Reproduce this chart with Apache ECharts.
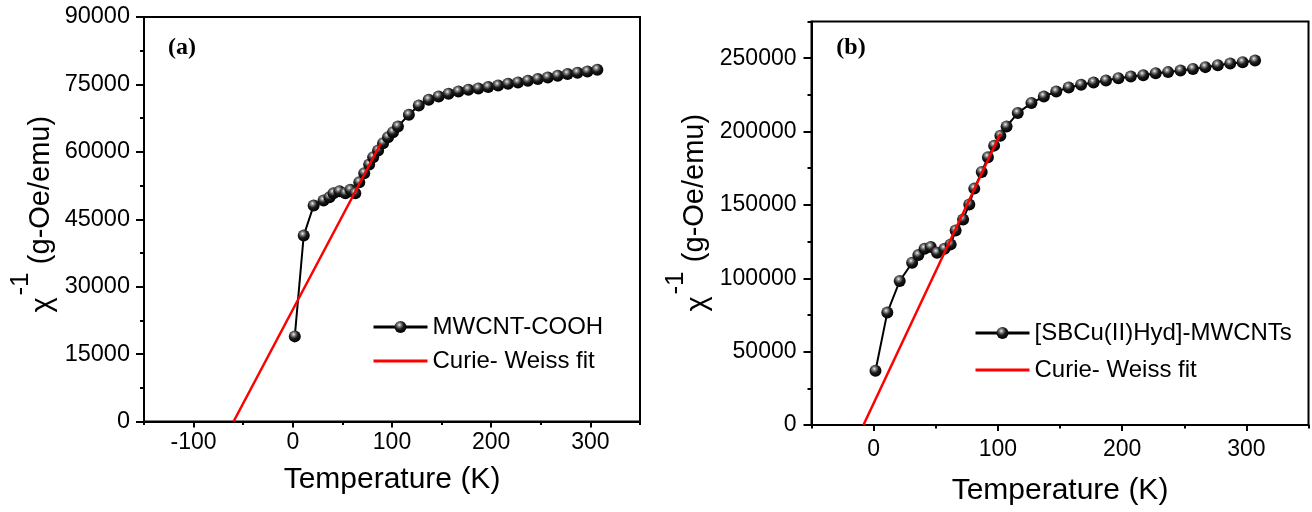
<!DOCTYPE html>
<html><head><meta charset="utf-8">
<script src="https://cdn.jsdelivr.net/npm/echarts@6/dist/echarts.min.js"></script>
<style>html,body{margin:0;padding:0;background:#fff}#c{width:1312px;height:512px}</style>
</head><body><div id="c"></div>
<script>
// ---- data ----
const tempA = [2, 11, 21, 31, 37, 41, 47, 53, 58, 63, 67, 72, 77, 81, 86, 91, 96, 101, 106, 117, 127, 137, 147, 157, 167, 177, 187, 197, 207, 217, 227, 237, 247, 257, 267, 277, 287, 297, 307];
const chiA = [18940, 41360, 48050, 49160, 49900, 50790, 51240, 50790, 51540, 50790, 53240, 55250, 57180, 58810, 60300, 61930, 63270, 64380, 65650, 68250, 70330, 71590, 72330, 72920, 73440, 73810, 74110, 74410, 74780, 75150, 75450, 75820, 76190, 76560, 76930, 77300, 77600, 77900, 78270];
const fitTempA = [-59.7, 88.5];
const fitChiA = [0, 61800];

const tempB = [1.5, 11, 21, 31, 36, 41, 46, 51, 57, 62, 66, 72, 77, 81, 87, 92, 97, 102, 107, 116, 127, 137, 147, 157, 167, 177, 187, 197, 207, 217, 227, 237, 247, 257, 267, 277, 287, 297, 307];
const chiB = [36940, 76600, 98140, 110600, 115800, 120100, 121260, 117400, 120100, 123100, 132600, 140100, 150300, 161100, 172500, 182500, 190400, 197200, 203500, 212600, 219400, 223900, 227300, 230050, 231900, 233400, 234800, 236400, 237500, 238400, 239800, 240500, 241600, 242700, 243900, 245200, 246400, 247300, 248400];
const fitTempB = [-8.2, 102];
const fitChiB = [0, 198500];

const xTicksA = [-100, 0, 100, 200, 300];
const yTicksA = [0, 15000, 30000, 45000, 60000, 75000, 90000];
const xTicksB = [0, 100, 200, 300];
const yTicksB = [0, 50000, 100000, 150000, 200000, 250000];

const nameA = 'MWCNT-COOH';
const nameB = '[SBCu(II)Hyd]-MWCNTs';
const fitName = 'Curie- Weiss fit';
const xTitle = 'Temperature (K)';
const yTitleMain = '(g-Oe/emu)';
const yTitleChi = 'χ';
const yTitleSup = '-1';

// ---- helpers ----
const FONT = '"Liberation Sans", Arial, sans-serif';
const pairs = (xs, ys) => xs.map((x, i) => [x, ys[i]]);
const plain = v => String(v);
const sphere = {
  type: 'radial', x: 0.4, y: 0.33, r: 0.65,
  colorStops: [
    {offset: 0, color: '#f2f2f2'},
    {offset: 0.22, color: '#8a8a8a'},
    {offset: 0.55, color: '#1c1c1c'},
    {offset: 1, color: '#000'}
  ]
};
const blackLine = {color: '#000', width: 2};
const fitIcon = 'path://M0,0H54V3H0Z';

function majorX(grid, min, max, ticks, margin, gap) {
  return {
    type: 'value', gridIndex: grid, min: min, max: max, position: 'bottom',
    axisLine: {show: true, onZero: false, lineStyle: blackLine},
    axisTick: {show: true, customValues: ticks, length: 6, lineStyle: blackLine},
    axisLabel: {customValues: ticks, formatter: plain, color: '#000', fontSize: 23, fontFamily: FONT, margin: margin},
    splitLine: {show: false},
    name: xTitle, nameLocation: 'middle', nameGap: gap,
    nameTextStyle: {color: '#000', fontSize: 30, fontFamily: FONT}
  };
}
function minorX(grid, min, max) {
  return {
    type: 'value', gridIndex: grid, min: min, max: max, interval: 50, position: 'bottom',
    axisLine: {show: false, onZero: false},
    axisTick: {show: true, length: 3.5, lineStyle: blackLine},
    axisLabel: {show: false}, splitLine: {show: false}
  };
}

const option = {
  animation: false,
  backgroundColor: '#fff',
  grid: [
    {left: 144, top: 17, width: 496, height: 404.5, show: true, borderColor: '#000', borderWidth: 2, containLabel: false},
    {left: 811.5, top: 21.5, width: 497, height: 403.5, show: true, borderColor: '#000', borderWidth: 2, containLabel: false}
  ],
  xAxis: [
    majorX(0, -150, 350, xTicksA, 10, 43),
    minorX(0, -150, 350),
    majorX(1, -50, 350, xTicksB, 13, 51),
    minorX(1, -50, 350)
  ],
  yAxis: [
    {
      type: 'value', gridIndex: 0, min: 0, max: 90000, interval: 15000, position: 'left',
      axisLine: {show: true, onZero: false, lineStyle: blackLine},
      axisTick: {show: true, length: 8, lineStyle: blackLine},
      minorTick: {show: true, splitNumber: 2, length: 4, lineStyle: blackLine},
      axisLabel: {customValues: yTicksA, formatter: plain, color: '#000', fontSize: 23.5, fontFamily: FONT, margin: 14},
      splitLine: {show: false}, minorSplitLine: {show: false}
    },
    {
      type: 'value', gridIndex: 1, min: 0, max: 275000, interval: 25000, position: 'left',
      axisLine: {show: true, onZero: false, lineStyle: blackLine},
      axisTick: {show: true, customValues: yTicksB, length: 8, lineStyle: blackLine},
      axisLabel: {customValues: yTicksB, formatter: plain, color: '#000', fontSize: 23, fontFamily: FONT, margin: 15},
      splitLine: {show: false}
    },
    {
      type: 'value', gridIndex: 1, min: 0, max: 275000, interval: 25000, position: 'left',
      axisLine: {show: false, onZero: false},
      axisTick: {show: true, length: 4, lineStyle: blackLine},
      axisLabel: {show: false}, splitLine: {show: false}
    }
  ],
  legend: [
    {
      left: 372, top: 315, padding: 0, orient: 'vertical', selectedMode: false,
      data: [nameA, {name: fitName, icon: fitIcon}],
      itemWidth: 54, itemHeight: 15, itemGap: 10,
      lineStyle: {width: 3},
      textStyle: {color: '#000', fontSize: 24, lineHeight: 24, fontFamily: FONT}
    },
    {
      left: 974, top: 321, padding: 0, orient: 'vertical', selectedMode: false,
      data: [nameB, {name: fitName, icon: fitIcon}],
      itemWidth: 54, itemHeight: 15, itemGap: 13,
      lineStyle: {width: 3},
      textStyle: {color: '#000', fontSize: 24, lineHeight: 24, fontFamily: FONT}
    }
  ],
  series: [
    {
      type: 'line', name: nameA, xAxisIndex: 0, yAxisIndex: 0,
      data: pairs(tempA, chiA),
      symbol: 'circle', symbolSize: 12, showAllSymbol: true,
      lineStyle: blackLine, itemStyle: {color: sphere, borderWidth: 0},
      emphasis: {disabled: true}, z: 2
    },
    {
      type: 'line', name: fitName, xAxisIndex: 0, yAxisIndex: 0,
      data: pairs(fitTempA, fitChiA),
      symbol: 'none', lineStyle: {color: '#ff0000', width: 2.5},
      itemStyle: {color: '#ff0000'}, emphasis: {disabled: true}, z: 3
    },
    {
      type: 'line', name: nameB, xAxisIndex: 2, yAxisIndex: 1,
      data: pairs(tempB, chiB),
      symbol: 'circle', symbolSize: 12, showAllSymbol: true,
      lineStyle: blackLine, itemStyle: {color: sphere, borderWidth: 0},
      emphasis: {disabled: true}, z: 2
    },
    {
      type: 'line', name: fitName, xAxisIndex: 2, yAxisIndex: 1,
      data: pairs(fitTempB, fitChiB),
      symbol: 'none', lineStyle: {color: '#ff0000', width: 2.5},
      itemStyle: {color: '#ff0000'}, emphasis: {disabled: true}, z: 3
    }
  ],
  graphic: [
    {type: 'text', x: 182, y: 48, style: {text: '(a)', font: 'bold 24px "Liberation Serif", "Times New Roman", serif', fill: '#000', align: 'center', verticalAlign: 'middle'}},
    {type: 'text', x: 851, y: 48, style: {text: '(b)', font: 'bold 24px "Liberation Serif", "Times New Roman", serif', fill: '#000', align: 'center', verticalAlign: 'middle'}},
    // y title, left panel
    {type: 'text', x: 41, y: 190, rotation: Math.PI / 2, style: {text: yTitleMain, font: '29px ' + FONT, fill: '#000', align: 'center', verticalAlign: 'middle'}},
    {type: 'text', x: 43, y: 305, rotation: Math.PI / 2, style: {text: yTitleChi, font: '29px ' + FONT, fill: '#000', align: 'center', verticalAlign: 'middle'}},
    {type: 'text', x: 21, y: 284, rotation: Math.PI / 2, style: {text: yTitleSup, font: '26px ' + FONT, fill: '#000', align: 'center', verticalAlign: 'middle'}},
    // y title, right panel
    {type: 'text', x: 695, y: 188, rotation: Math.PI / 2, style: {text: yTitleMain, font: '29px ' + FONT, fill: '#000', align: 'center', verticalAlign: 'middle'}},
    {type: 'text', x: 698, y: 304, rotation: Math.PI / 2, style: {text: yTitleChi, font: '29px ' + FONT, fill: '#000', align: 'center', verticalAlign: 'middle'}},
    {type: 'text', x: 676, y: 283, rotation: Math.PI / 2, style: {text: yTitleSup, font: '26px ' + FONT, fill: '#000', align: 'center', verticalAlign: 'middle'}}
  ]
};

echarts.init(document.getElementById('c'), null, {renderer: 'canvas'}).setOption(option);
</script>
</body></html>
